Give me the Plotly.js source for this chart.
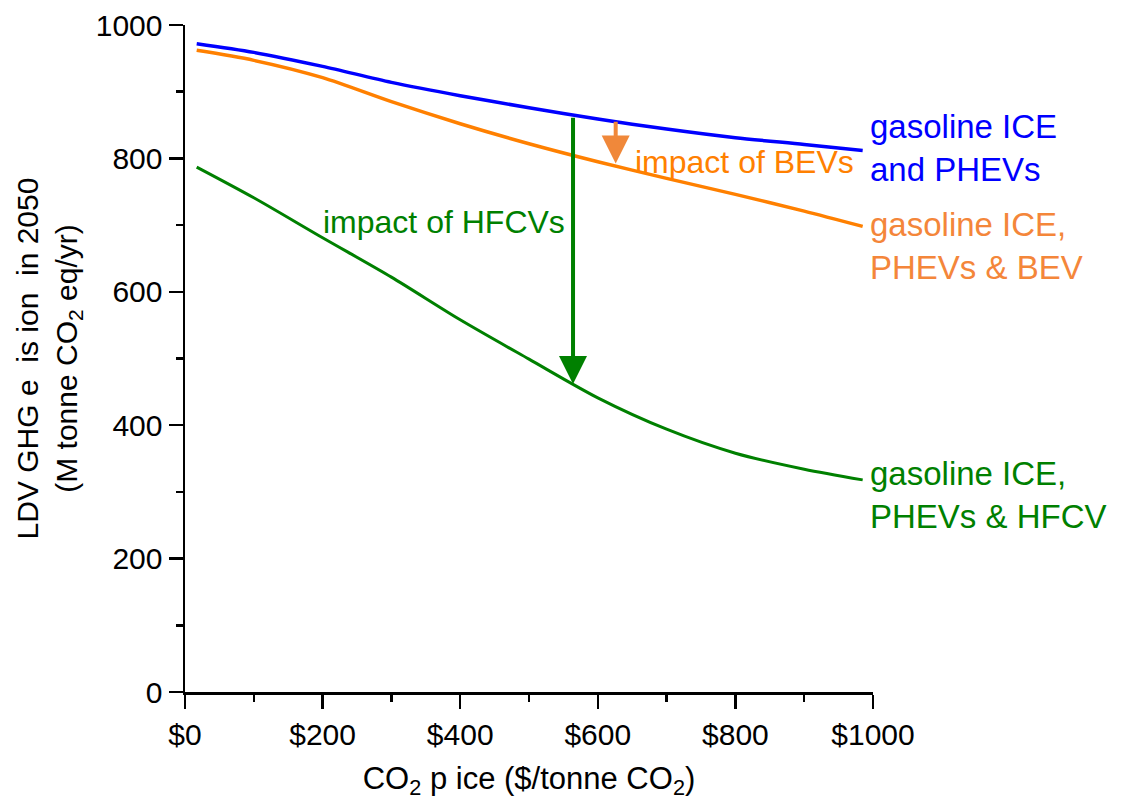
<!DOCTYPE html>
<html>
<head>
<meta charset="utf-8">
<script src="https://cdn.plot.ly/plotly-3.0.1.min.js"></script>
<style>html,body{margin:0;padding:0;background:#fff;}#chart{width:1121px;height:803px;}</style>
</head>
<body>
<div id="chart"></div>
<script>
// CO2 price ($/tonne CO2)
const co2Price = [17, 100, 200, 300, 400, 500, 600, 700, 800, 900, 985];
// LDV GHG emissions in 2050 (M tonne CO2 eq/yr)
const iceAndPhev      = [972, 959, 938, 914, 894, 876, 859, 844, 831, 821, 812];
const iceAndPhevBev   = [962, 947, 921, 885, 852, 822, 795, 770, 746, 721, 698];
const iceAndPhevHfcv  = [787, 741, 681, 622, 558, 499, 441, 394, 358, 334, 318];

const seriesNames = ['gasoline ICE<br>and PHEVs', 'gasoline ICE,<br>PHEVs & BEV', 'gasoline ICE,<br>PHEVs & HFCV'];
const xTickVals = [0, 200, 400, 600, 800, 1000];
const yTickVals = [0, 200, 400, 600, 800, 1000];

function interp(xs, ys, x) {
  for (let i = 0; i < xs.length - 1; i++) {
    if (x >= xs[i] && x <= xs[i + 1]) {
      const t = (x - xs[i]) / (xs[i + 1] - xs[i]);
      return ys[i] + t * (ys[i + 1] - ys[i]);
    }
  }
  return ys[ys.length - 1];
}

const FONT = 'Liberation Sans, Arial, Helvetica, sans-serif';
const BLUE = '#0000FF', ORANGE = '#FF8000', GREEN = '#008000';

const traces = [
  {x: co2Price, y: iceAndPhev, mode: 'lines', line: {color: BLUE, width: 3.5, shape: 'spline', smoothing: 0.8}, name: 'ice_phev'},
  {x: co2Price, y: iceAndPhevBev, mode: 'lines', line: {color: ORANGE, width: 3.5, shape: 'spline', smoothing: 0.8}, name: 'ice_phev_bev'},
  {x: co2Price, y: iceAndPhevHfcv, mode: 'lines', line: {color: GREEN, width: 3, shape: 'spline', smoothing: 0.8}, name: 'ice_phev_hfcv'}
];

const hfcvX = 564, bevX = 626;
const labelX = 993;

const annotations = [
  {x: labelX, y: interp(co2Price, iceAndPhev, 985) + 3, xref: 'x', yref: 'y', text: seriesNames[0], showarrow: false,
   xanchor: 'left', yanchor: 'middle', align: 'left', font: {family: FONT, size: 33, color: BLUE}},
  {x: labelX, y: interp(co2Price, iceAndPhevBev, 985) - 30, xref: 'x', yref: 'y', text: seriesNames[1], showarrow: false,
   xanchor: 'left', yanchor: 'middle', align: 'left', font: {family: FONT, size: 33, color: '#F4863A'}},
  {x: labelX, y: interp(co2Price, iceAndPhevHfcv, 985) - 22, xref: 'x', yref: 'y', text: seriesNames[2], showarrow: false,
   xanchor: 'left', yanchor: 'middle', align: 'left', font: {family: FONT, size: 33, color: GREEN}},
  // arrows
  {x: hfcvX, y: interp(co2Price, iceAndPhevHfcv, hfcvX), ax: hfcvX, ay: interp(co2Price, iceAndPhev, hfcvX) - 2,
   xref: 'x', yref: 'y', axref: 'x', ayref: 'y', text: '', showarrow: true, arrowhead: 2, arrowsize: 1.4, arrowwidth: 4,
   arrowcolor: GREEN, standoff: 0, startstandoff: 0},
  {x: bevX, y: interp(co2Price, iceAndPhevBev, bevX) + 4, ax: bevX, ay: interp(co2Price, iceAndPhev, bevX) + 2,
   xref: 'x', yref: 'y', axref: 'x', ayref: 'y', text: '', showarrow: true, arrowhead: 2, arrowsize: 1.4, arrowwidth: 4,
   arrowcolor: '#F0883A', standoff: 0, startstandoff: 0},
  {x: 651, y: 794, xref: 'x', yref: 'y', text: 'impact of BEVs', showarrow: false, xanchor: 'left', yanchor: 'middle',
   font: {family: FONT, size: 32, color: ORANGE}},
  {x: 555, y: 704, xref: 'x', yref: 'y', text: 'impact of HFCVs', showarrow: false, xanchor: 'right', yanchor: 'middle',
   font: {family: FONT, size: 32, color: GREEN}}
];

const layout = {
  width: 1121, height: 803,
  margin: {l: 185, r: 248, t: 25, b: 111},
  paper_bgcolor: '#fff', plot_bgcolor: '#fff',
  showlegend: false,
  font: {family: FONT, size: 30, color: '#000'},
  xaxis: {
    range: [0, 1000], tickvals: xTickVals, ticktext: xTickVals.map(v => '$' + v),
    showgrid: false, zeroline: false, showline: true, linecolor: '#000', linewidth: 2.5,
    ticks: 'outside', ticklen: 14, tickwidth: 2.5, tickcolor: '#000',
    minor: {ticks: 'outside', dtick: 100, ticklen: 7, tickwidth: 2.5, tickcolor: '#000', showgrid: false},
    tickfont: {family: FONT, size: 30},
    title: {text: 'CO<sub>2</sub> p ice ($/tonne CO<sub>2</sub>)', font: {family: FONT, size: 31}, standoff: 18}
  },
  yaxis: {
    range: [0, 1000], tickvals: yTickVals,
    showgrid: false, zeroline: false, showline: true, linecolor: '#000', linewidth: 2.5,
    ticks: 'outside', ticklen: 14, tickwidth: 2.5, tickcolor: '#000',
    minor: {ticks: 'outside', dtick: 100, ticklen: 7, tickwidth: 2.5, tickcolor: '#000', showgrid: false},
    tickfont: {family: FONT, size: 30},
    title: {text: 'LDV GHG e\u00a0\u00a0is ion\u00a0\u00a0in 2050<br>(M tonne CO<sub>2</sub> eq/yr)', font: {family: FONT, size: 30}, standoff: 10}
  },
  annotations: annotations
};

Plotly.newPlot('chart', traces, layout, {displayModeBar: false, staticPlot: true});
</script>
</body>
</html>
